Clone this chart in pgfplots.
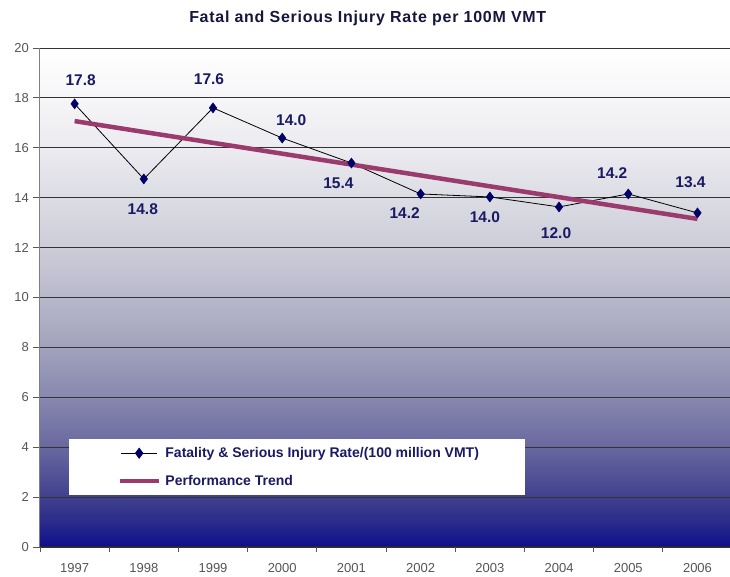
\documentclass[border=0pt]{standalone}
\usepackage{fontspec}
\setmainfont{Liberation Sans}
\usepackage{pgfplots}
\pgfplotsset{compat=1.18}
\usepackage{pgfplotstable}
\definecolor{navy}{RGB}{0,0,102}
\definecolor{lblblue}{RGB}{26,26,100}
\definecolor{titlecol}{RGB}{22,22,60}
\definecolor{trend}{RGB}{155,58,108}
\definecolor{tickgray}{RGB}{85,85,85}
\definecolor{s0}{RGB}{14,14,140}
\definecolor{s1}{RGB}{42,42,138}
\definecolor{s2}{RGB}{64,64,142}
\definecolor{s4}{RGB}{104,104,160}
\definecolor{s6}{RGB}{136,136,176}
\definecolor{s8}{RGB}{162,162,189}
\definecolor{s10}{RGB}{184,184,203}
\definecolor{s12}{RGB}{205,205,217}
\definecolor{s14}{RGB}{220,220,228}
\definecolor{s16}{RGB}{235,235,240}
\definecolor{s18}{RGB}{246,246,248}
\definecolor{s20}{RGB}{255,255,255}
\pgfdeclareverticalshading{bgshade}{100bp}{color(0bp)=(s0); color(25bp)=(s0); color(27.5bp)=(s1); color(30bp)=(s2); color(35bp)=(s4); color(40bp)=(s6); color(45bp)=(s8); color(50bp)=(s10); color(55bp)=(s12); color(60bp)=(s14); color(65bp)=(s16); color(70bp)=(s18); color(75bp)=(s20); color(100bp)=(s20)}

\pgfplotstableread{
x y lab dx dy
0 17.76 17.8 6 24
1 14.75 14.8 -1 -30
2 17.60 17.6 -4 29
3 16.39 14.0 9 18
4 15.39 15.4 -13 -20
5 14.15 14.2 -16 -19
6 14.03 14.0 -5 -20
7 13.63 12.0 -3 -26
8 14.15 14.2 -16 21
9 13.39 13.4 -7 31
}\fsdata

\pgfplotstableread{
x y
0 17.07
9 13.15
}\trenddata

\begin{document}
\begin{tikzpicture}
\begin{axis}[
  name=ax,
  scale only axis,
  width=690pt, height=499pt,
  xmin=-0.5, xmax=9.47,
  ymin=0, ymax=20,
  ytick={0,2,...,20},
  xtick={0,...,9},
  xticklabels={1997,1998,1999,2000,2001,2002,2003,2004,2005,2006},
  minor xtick={-0.5,0.5,...,9.5},
  axis lines*=left,
  tick align=outside,
  major tick length=7pt,
  minor tick length=5pt,
  xtick style={draw=none},
  minor x tick style={draw=tickgray, line width=0.8pt},
  ytick style={draw=tickgray, line width=0.8pt},
  x axis line style={draw=black!85, line width=1pt, -},
  y axis line style={draw=gray, line width=1pt, -},
  ymajorgrids,
  grid style={draw=black!80, line width=0.8pt},
  axis background/.style={shading=bgshade},
  /pgf/number format/assume math mode=true,
  yticklabel style={font=\fontsize{13}{15}\selectfont, text=tickgray, anchor=east, inner sep=0pt, xshift=-4pt},
  xticklabel style={font=\fontsize{13}{15}\selectfont, text=tickgray, anchor=center, inner sep=0pt, yshift=-14pt},
  title={\addfontfeature{LetterSpace=4.5}Fatal and Serious Injury Rate per 100M VMT},
  title style={at={(0.475,1)}, anchor=base, yshift=19pt, font=\bfseries\fontsize{16}{18}\selectfont, text=titlecol},
  legend style={at={(0.042,0.2164)}, anchor=north west, fill=white, draw=none,
    inner xsep=0pt, inner ysep=4pt, row sep=8pt, column sep=4pt,
    nodes={inner sep=0pt}, cells={anchor=west},
    font=\bfseries\fontsize{14}{16}\selectfont, text=lblblue},
]
\addplot[black, line width=0.8pt, mark=diamond*, mark size=5pt,
  mark options={fill=navy, draw=navy, line width=0.5pt},
  point meta=explicit symbolic, nodes near coords,
  visualization depends on={\thisrow{dx}\as\dx},
  visualization depends on={\thisrow{dy}\as\dy},
  every node near coord/.append style={anchor=center, xshift=\dx pt, yshift=\dy pt, font=\bfseries\fontsize{15.5}{17}\selectfont, text=lblblue, inner sep=0pt},
  legend image code/.code={\path[draw=none,fill=none] (-52pt,-10pt) rectangle (37pt,10pt);
    \draw[black, line width=0.8pt] (0pt,0pt) -- (36pt,0pt);
    \fill[navy] (18pt,5pt) -- (21.75pt,0pt) -- (18pt,-5pt) -- (14.25pt,0pt) -- cycle;}
] table[x=x, y=y, meta=lab] {\fsdata};
\addlegendentry{Fatality \& Serious Injury Rate/(100 million VMT)\hspace*{46pt}}
\addplot[trend, line width=4.5pt, no marks,
  legend image code/.code={\path[draw=none,fill=none] (-52pt,-10pt) rectangle (37pt,10pt);
    \draw[trend, line width=4.5pt] (-1pt,0pt) -- (38pt,0pt);}
] table[x=x, y=y] {\trenddata};
\addlegendentry{Performance Trend}
\end{axis}
\pgfresetboundingbox
\path ([xshift=-40pt,yshift=-30pt]ax.south west) rectangle ([yshift=48pt]ax.north east);
\end{tikzpicture}
\end{document}
